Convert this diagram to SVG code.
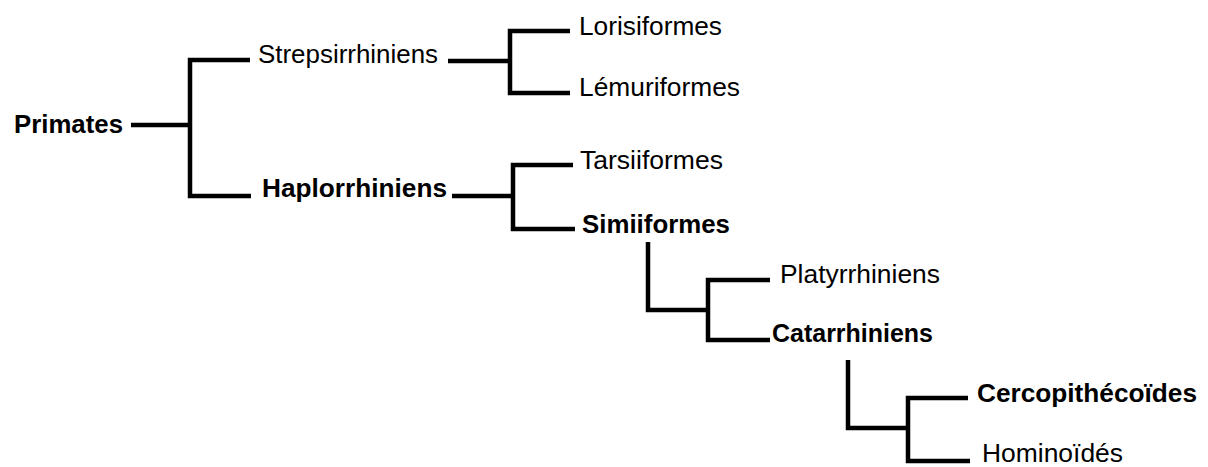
<svg xmlns="http://www.w3.org/2000/svg" width="1208" height="467" viewBox="0 0 1208 467">
<style>
text{font-family:"Liberation Sans",Arial,sans-serif;font-size:26px;fill:#000}
.b{font-weight:bold}
.c path{fill:none;stroke:#000;stroke-width:4.5;stroke-linejoin:miter;stroke-linecap:butt}
</style>
<rect width="1208" height="467" fill="#fff"/>
<g class="c" id="connectors">
<path d="M131,125 H190"/>
<path d="M250,60 H190 V196 H251"/>
<path d="M448,61 H510"/>
<path d="M570,31 H510 V93 H570"/>
<path d="M452,196 H513"/>
<path d="M573,165 H513 V229 H575"/>
<path d="M648,242 V310 H708"/>
<path d="M770,280 H708 V340 H770"/>
<path d="M848,360 V428 H908"/>
<path d="M968,398 H908 V461 H970"/>
</g>
<g id="primates"><text class="b" x="14" y="133" textLength="109" lengthAdjust="spacingAndGlyphs">Primates</text></g>
<g id="strepsirrhiniens"><text x="258" y="63" textLength="180" lengthAdjust="spacingAndGlyphs">Strepsirrhiniens</text></g>
<g id="haplorrhiniens"><text class="b" x="262" y="197" textLength="185" lengthAdjust="spacingAndGlyphs">Haplorrhiniens</text></g>
<g id="lorisiformes"><text x="579" y="35" textLength="143" lengthAdjust="spacingAndGlyphs">Lorisiformes</text></g>
<g id="lemuriformes"><text x="579" y="96" textLength="161" lengthAdjust="spacingAndGlyphs">Lémuriformes</text></g>
<g id="tarsiiformes"><text x="580" y="169" textLength="143" lengthAdjust="spacingAndGlyphs">Tarsiiformes</text></g>
<g id="simiiformes"><text class="b" x="582" y="233" textLength="148" lengthAdjust="spacingAndGlyphs">Simiiformes</text></g>
<g id="platyrrhiniens"><text x="780" y="283" textLength="160" lengthAdjust="spacingAndGlyphs">Platyrrhiniens</text></g>
<g id="catarrhiniens"><text class="b" x="772" y="342" textLength="161" lengthAdjust="spacingAndGlyphs">Catarrhiniens</text></g>
<g id="cercopithecoides"><text class="b" x="977" y="402" textLength="220" lengthAdjust="spacingAndGlyphs">Cercopithécoïdes</text></g>
<g id="hominoides"><text x="982" y="462" textLength="141" lengthAdjust="spacingAndGlyphs">Hominoïdés</text></g>
</svg>
